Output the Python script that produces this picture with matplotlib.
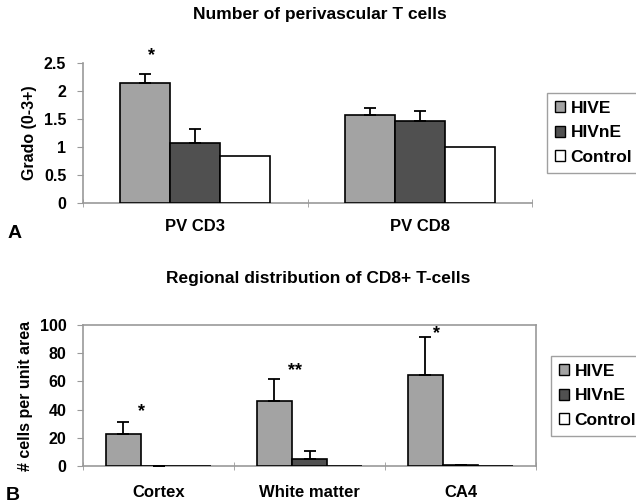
import numpy as np
import matplotlib.pyplot as plt
from matplotlib.patches import Patch

plt.rcParams['font.family'] = ['Liberation Sans', 'DejaVu Sans']
plt.rcParams['font.weight'] = 'bold'

# datos panel A
groups = ["HIVE", "HIVnE", "Control"]
colors = ["#a3a3a3", "#505050", "#ffffff"]
cats_a = ["PV CD3", "PV CD8"]
hive_a = [2.13, 1.57]
hive_a_err = [0.17, 0.12]
hivne_a = [1.06, 1.45]
hivne_a_err = [0.25, 0.19]
control_a = [0.84, 1.00]
yticks_a = [0, 0.5, 1, 1.5, 2, 2.5]
yticklabels_a = ["0", "0.5", "1", "1.5", "2", "2.5"]

# datos panel B
cats_b = ["Cortex", "White matter", "CA4"]
hive_b = [22.7, 46.3, 64.5]
hive_b_err = [8.5, 15.2, 27.2]
hivne_b = [0.0, 5.0, 1.0]
hivne_b_err = [0.0, 5.6, 0.0]
control_b = [0.0, 0.0, 0.0]
yticks_b = [0, 20, 40, 60, 80, 100]

W, H = 636, 504
fig = plt.figure(figsize=(W / 100, H / 100), dpi=100)

def px_axes(x0, y0, x1, y1):
    """crea ejes a partir de coordenadas en pixeles (y desde arriba)"""
    return fig.add_axes([x0 / W, 1 - y1 / H, (x1 - x0) / W, (y1 - y0) / H])

def barras(ax, cats, series, errs, width, xpad):
    x = np.arange(len(cats))
    for i, (vals, err) in enumerate(zip(series, errs)):
        pos = x + (i - 1) * width
        ax.bar(pos, vals, width, color=colors[i], edgecolor="black", linewidth=1.2, zorder=3)
        if err is not None:
            ax.errorbar(pos, vals, yerr=[np.zeros(len(err)), err], fmt="none",
                        ecolor="black", elinewidth=1.3, capsize=4.5, capthick=1.3, zorder=4)
    ax.set_xlim(-0.5, len(cats) - 0.5)
    ax.set_xticks(x)
    ax.set_xticklabels(cats, fontsize=12, fontweight="bold")
    ax.set_xticks(np.arange(len(cats) + 1) - 0.5, minor=True)
    ax.tick_params(axis="x", which="major", length=0, pad=xpad)
    ax.tick_params(axis="x", which="minor", length=6, direction="inout", color="#999999")
    ax.tick_params(axis="y", length=4, direction="out", color="#999999", pad=8, labelsize=11.5)
    for s in ax.spines.values():
        s.set_color("#999999")
        s.set_linewidth(1.2)

def leyenda(x0, y0):
    handles = [Patch(facecolor=c, edgecolor="black", linewidth=1) for c in colors]
    fig.legend(handles, groups, loc="upper left", bbox_to_anchor=(x0 / W, 1 - y0 / H),
               borderaxespad=0, fancybox=False, edgecolor="#a0a0a0", framealpha=1,
               prop={"size": 12.5, "weight": "bold"}, handlelength=0.6, handleheight=0.6,
               handletextpad=0.3, labelspacing=0.55, borderpad=0.45)

# panel A
ax1 = px_axes(83, 62.7, 532, 202.7)
barras(ax1, cats_a, [hive_a, hivne_a, control_a], [hive_a_err, hivne_a_err, None], 0.223, 12)
ax1.set_ylim(0, 2.5)
ax1.set_yticks(yticks_a)
ax1.set_yticklabels(yticklabels_a, fontweight="bold")
ax1.spines["top"].set_visible(False)
ax1.spines["right"].set_visible(False)
ax1.set_ylabel("Grado (0-3+)", fontsize=11.5, fontweight="bold", labelpad=5)
ax1.text(-0.194, 2.62, "*", ha="center", va="center", fontsize=13, fontweight="bold")
leyenda(547, 93)
fig.text(320 / W, 1 - 15 / H, "Number of perivascular T cells", ha="center", va="center",
         fontsize=12.5, fontweight="bold")
fig.text(15 / W, 1 - 233 / H, "A", ha="center", va="center", fontsize=14, fontweight="bold")

# panel B
ax2 = px_axes(83, 325, 536, 466)
barras(ax2, cats_b, [hive_b, hivne_b, control_b], [hive_b_err, hivne_b_err, None], 0.232, 14)
ax2.set_ylim(0, 100)
ax2.set_yticks(yticks_b)
ax2.set_yticklabels([str(v) for v in yticks_b], fontweight="bold")
ax2.set_ylabel("# cells per unit area", fontsize=11.5, fontweight="bold", labelpad=5)
ax2.text(-0.111, 38.5, "*", ha="center", va="center", fontsize=13, fontweight="bold")
ax2.text(0.904, 67.5, "**", ha="center", va="center", fontsize=13, fontweight="bold")
ax2.text(1.844, 94, "*", ha="center", va="center", fontsize=13, fontweight="bold")
leyenda(551, 356)
fig.text(318 / W, 1 - 278 / H, "Regional distribution of CD8+ T-cells", ha="center", va="center",
         fontsize=12.5, fontweight="bold")
fig.text(13 / W, 1 - 495 / H, "B", ha="center", va="center", fontsize=14, fontweight="bold")

fig.savefig("out.png", dpi=100)
